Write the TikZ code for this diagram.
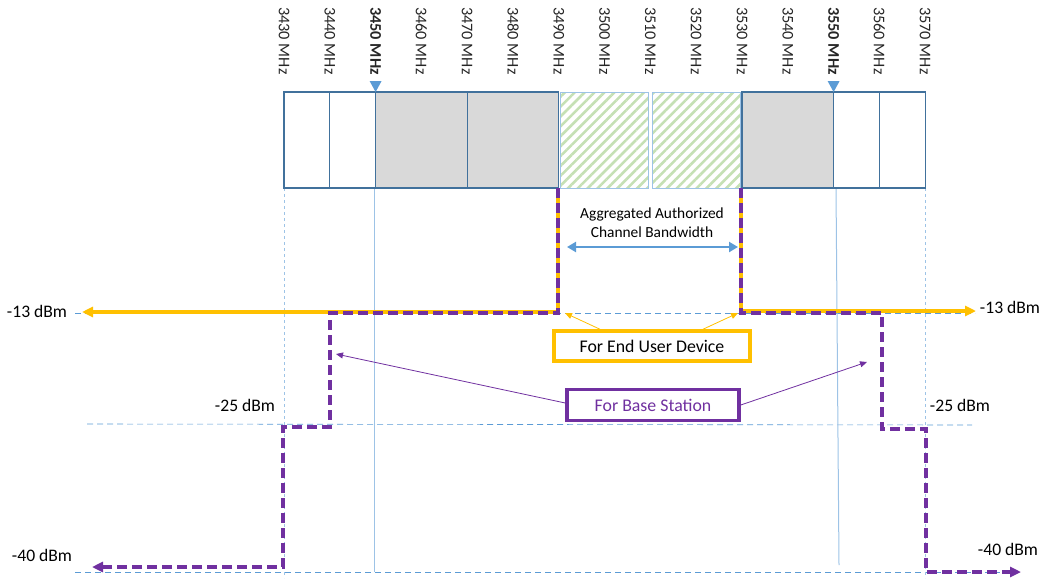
\documentclass[tikz,border=0pt]{standalone}
\usepackage{fontspec}
\setmainfont{Carlito}
\usetikzlibrary{arrows.meta,patterns.meta}
\definecolor{frame}{HTML}{41719C}
\definecolor{guide}{HTML}{9DC3E6}
\definecolor{levelblue}{HTML}{5B9BD5}
\definecolor{grayblock}{HTML}{D9D9D9}
\definecolor{hatch}{HTML}{C5E0B4}
\definecolor{eudyellow}{HTML}{FFC000}
\definecolor{bspurple}{HTML}{7030A0}
\begin{document}
\begin{tikzpicture}[x=1pt,y=-1pt,
    every node/.style={inner sep=0pt},
    freqlabel/.style={rotate=-90,anchor=west,font=\fontsize{16.3}{16}\selectfont,text=black!85},
    dbmlabel/.style={font=\fontsize{17.6}{18}\selectfont},
    block/.style={draw=frame,line width=1.3pt},
    hatchblock/.style={draw=guide,line width=0.8pt,pattern={Lines[angle=45,distance=7pt,line width=2.6pt]},pattern color=hatch},
    levelline/.style={levelblue,line width=0.6pt,dash pattern=on 6pt off 4pt},
    eudline/.style={eudyellow,line width=3.5pt},
    bsline/.style={bspurple,line width=3.5pt,dash pattern=on 10pt off 5pt},
    bigtip/.style={-{Triangle[length=11pt,width=10pt]}},
    eudbox/.style={draw=eudyellow,line width=3.5pt,fill=white,minimum width=196pt,minimum height=30pt,font=\fontsize{17.8}{18}\selectfont},
    bsbox/.style={draw=bspurple,line width=3.5pt,fill=white,minimum width=172pt,minimum height=31pt,text=bspurple,font=\fontsize{17.8}{18}\selectfont},
    callout/.style={line width=0.8pt,-{Triangle[length=7pt,width=6pt]}}
]
\useasboundingbox (0,0) rectangle (1043,578);

% Frequenzen
\foreach \f [count=\i from 0] in {3430,3440,...,3570} {
    \ifnum\f=3450 \def\w{\bfseries}\else\ifnum\f=3550 \def\w{\bfseries}\else\def\w{}\fi\fi
    \node[freqlabel] (f\f) at (284+45.8*\i,7) {\w\f~MHz};
}

% Hilfslinien
\draw[levelline] (75,313) -- (975,313);
\draw[levelline] (87,424) -- (972,425);
\draw[levelline] (75,572) -- (1000,572);
\draw[guide,line width=0.8pt,dash pattern=on 3pt off 3pt] (284,188) -- (284,578);
\draw[guide,line width=0.8pt,dash pattern=on 3pt off 3pt] (925.2,188) -- (925.2,578);
\draw[guide,line width=1pt] (374,188) -- (374,572);
\draw[guide,line width=1pt] (836,188) -- (839,565);

% Bloecke
\foreach \a/\b in {0/1,1/2,12/13,13/14}
    \draw[block,fill=white] (284+45.8*\a,92) rectangle (284+45.8*\b,188);
\foreach \a/\b in {2/4,4/6,10/12}
    \draw[block,fill=grayblock] (284+45.8*\a,92) rectangle (284+45.8*\b,188);
\foreach \a/\b in {6/8,8/10}
    \draw[hatchblock] (284+45.8*\a+2,92) rectangle (284+45.8*\b-2,188);

% Marken 3450 / 3550
\fill[levelblue] (369.6,81) -- (381.6,81) -- (375.6,92) -- cycle;
\fill[levelblue] (827.6,81) -- (839.6,81) -- (833.6,92) -- cycle;

% Bandbreite
\node[font=\fontsize{15.4}{19}\selectfont,align=center] (bw) at (652,223) {Aggregated Authorized\\Channel Bandwidth};
\draw[levelblue,line width=2.5pt,{Triangle[length=9pt,width=10pt]}-{Triangle[length=9pt,width=10pt]}] (567,247) -- (738,247);

% Endgeraet
\draw[eudline,bigtip] (558,188) -- (558,312) -- (82,312);
\draw[eudline,bigtip] (741,188) -- (741,311) -- (976,311);

% Basisstation
\draw[bsline,bigtip] (558,188) -- (558,313) -- (330,313) -- (330,427) -- (283,427) -- (283,567) -- (92,567);
\draw[bsline,bigtip] (741,188) -- (741,313) -- (882,313) -- (882,429) -- (926,429) -- (926,572) -- (1021,572);

% Pegel
\node[dbmlabel] (l13) at (37,311) {-13 dBm};
\node[dbmlabel] (r13) at (1010,307) {-13 dBm};
\node[dbmlabel] (l25) at (245,405) {-25 dBm};
\node[dbmlabel] (r25) at (960,405) {-25 dBm};
\node[dbmlabel] (l40) at (42,555) {-40 dBm};
\node[dbmlabel] (r40) at (1008,549) {-40 dBm};

% Legende
\node[eudbox] (eud) at (652,346) {For End User Device};
\node[bsbox] (bs) at (653,405) {For Base Station};
\coordinate (eudL) at (565,313);
\coordinate (eudR) at (738,313);
\coordinate (bsL) at (336,354);
\coordinate (bsR) at (867,362);
\draw[eudyellow,callout] ([xshift=-52pt]eud.north) -- (eudL);
\draw[eudyellow,callout] ([xshift=51pt]eud.north) -- (eudR);
\draw[bspurple,callout] ([yshift=2pt]bs.west) -- (bsL);
\draw[bspurple,callout] (bs.east) -- (bsR);
\end{tikzpicture}
\end{document}
